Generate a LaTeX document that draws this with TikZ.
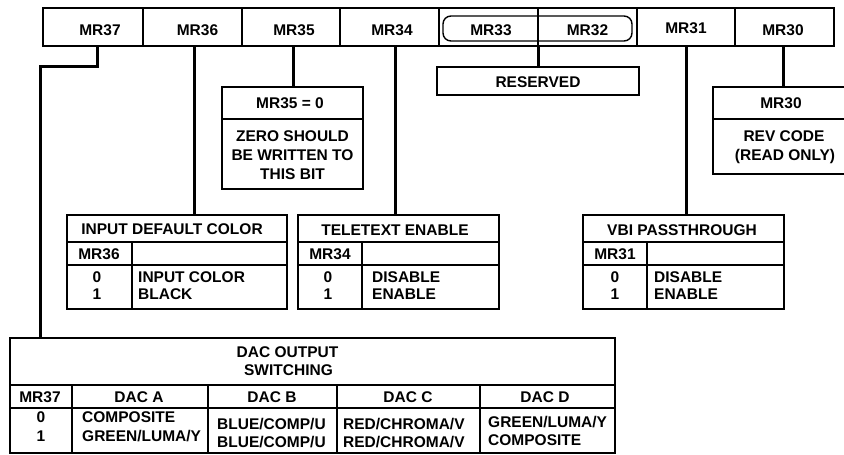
\documentclass[tikz,border=0pt]{standalone}
\usepackage{fontspec}
\setmainfont{Liberation Sans}
\begin{document}
\begin{tikzpicture}[x=1pt,y=-1pt,
  box/.style={draw, line width=1.5pt, inner sep=0pt, outer sep=0pt},
  div/.style={line width=1.4pt},
  conn/.style={line width=3pt, line join=miter},
  txt/.style={font=\fontsize{15.5}{18}\selectfont\bfseries, inner sep=0pt, anchor=base},
  ltxt/.style={txt, anchor=base west}]
\useasboundingbox (0,0) rectangle (844,455);
\clip (0,0) rectangle (844,455);

% register bar
\node[box, minimum width=791pt, minimum height=38pt] (bar) at (438.5,27) {};
\foreach \xx in {143,242,340,439,538,637,735} \draw[div] (\xx,8) -- (\xx,46);
\node[draw, line width=1.4pt, rounded corners=8pt, inner sep=0pt, minimum width=189pt, minimum height=25pt] (grp) at (537.5,28.5) {};
\node[txt] (r37) at (100,35.5) {MR37};
\node[txt] (r36) at (197.5,35.5) {MR36};
\node[txt] (r35) at (294,35.5) {MR35};
\node[txt] (r34) at (392,35.5) {MR34};
\node[txt] (r33) at (491,35.5) {MR33};
\node[txt] (r32) at (587.5,35.5) {MR32};
\node[txt] (r31) at (686,34) {MR31};
\node[txt] (r30) at (783,35.5) {MR30};

% reserved
\node[box, minimum width=202pt, minimum height=28pt] (res) at (538,81) {};
\node[txt] (tres) at (538,87) {RESERVED};

% MR35 box
\node[box, minimum width=141pt, minimum height=102pt] (m35) at (292.5,138) {};
\draw[div] (222,119) -- (363,119);
\node[txt] (a1) at (290,108.5) {MR35 = 0};
\node[txt] (a2) at (292.5,141.5) {ZERO SHOULD};
\node[txt] (a3) at (292.5,160.5) {BE WRITTEN TO};
\node[txt] (a4) at (292.5,179.5) {THIS BIT};

% MR30 box
\node[box, minimum width=147pt, minimum height=87pt] (m30) at (786.5,130.5) {};
\draw[div] (713,119) -- (860,119);
\node[txt] (b1) at (781,108.5) {MR30};
\node[txt] (b2) at (784,141.5) {REV CODE};
\node[txt] (b3) at (785,160.5) {(READ ONLY)};

% input default color
\node[box, minimum width=220pt, minimum height=94pt] (inb) at (177,262) {};
\draw[div] (67,242) -- (287,242) (67,265) -- (287,265) (132,242) -- (132,309);
\node[txt] (c1) at (172,234.5) {INPUT DEFAULT COLOR};
\node[txt] (c2) at (99,259) {MR36};
\node[txt] (c3) at (97,282) {0};
\node[txt] (c4) at (97,299.5) {1};
\node[ltxt] (c5) at (138,282) {INPUT COLOR};
\node[ltxt] (c6) at (138,299.5) {BLACK};

% teletext enable
\node[box, minimum width=201pt, minimum height=94pt] (tb) at (398.5,262) {};
\draw[div] (298,242) -- (499,242) (298,265) -- (499,265) (362,242) -- (362,309);
\node[txt] (d1) at (395,235.5) {TELETEXT ENABLE};
\node[txt] (d2) at (330,259.5) {MR34};
\node[txt] (d3) at (328,282) {0};
\node[txt] (d4) at (328,299.5) {1};
\node[ltxt] (d5) at (372,282) {DISABLE};
\node[ltxt] (d6) at (372,299.5) {ENABLE};

% VBI passthrough
\node[box, minimum width=201pt, minimum height=94pt] (vb) at (683.5,262) {};
\draw[div] (583,242) -- (784,242) (583,265) -- (784,265) (647,242) -- (647,309);
\node[txt] (e1) at (682,235.5) {VBI PASSTHROUGH};
\node[txt] (e2) at (615,259.5) {MR31};
\node[txt] (e3) at (615,282) {0};
\node[txt] (e4) at (615,299.5) {1};
\node[ltxt] (e5) at (654,282) {DISABLE};
\node[ltxt] (e6) at (654,299.5) {ENABLE};

% DAC output switching
\node[box, minimum width=605pt, minimum height=115pt] (dac) at (312.5,395.5) {};
\draw[div] (10,385) -- (615,385) (10,408) -- (615,408);
\foreach \xx in {72,208,337,480} \draw[div] (\xx,385) -- (\xx,453);
\node[txt] (f1) at (287.5,357.5) {DAC OUTPUT};
\node[txt] (f2) at (288.5,375.5) {SWITCHING};
\node[txt] (g1) at (40,402) {MR37};
\node[txt] (g2) at (139,402) {DAC A};
\node[txt] (g3) at (272,402) {DAC B};
\node[txt] (g4) at (408,402) {DAC C};
\node[txt] (g5) at (545,402) {DAC D};
\node[txt] (h1) at (41,422.5) {0};
\node[txt] (h2) at (41,441) {1};
\node[ltxt] (h3) at (82,422.5) {COMPOSITE};
\node[ltxt] (h4) at (82,441) {GREEN/LUMA/Y};
\node[ltxt] (h5) at (217,429.5) {BLUE/COMP/U};
\node[ltxt] (h6) at (217,447) {BLUE/COMP/U};
\node[ltxt] (h7) at (343,429.5) {RED/CHROMA/V};
\node[ltxt] (h8) at (343,447) {RED/CHROMA/V};
\node[ltxt] (h9) at (488,427.5) {GREEN/LUMA/Y};
\node[ltxt] (h10) at (488,445.5) {COMPOSITE};

% connectors
\coordinate (p37) at (97,46);
\coordinate (k37) at (40,66);
\draw[conn] (p37) |- (k37) -- (k37 |- dac.north);
\draw[conn] (194,46) coordinate (p36) -- (p36 |- inb.north);
\draw[conn] (293,46) coordinate (p35) -- (p35 |- m35.north);
\draw[conn] (395,46) coordinate (p34) -- (p34 |- tb.north);
\draw[conn] (538,46) coordinate (p33) -- (p33 |- res.north);
\draw[conn] (686,46) coordinate (p31) -- (p31 |- vb.north);
\draw[conn] (783,46) coordinate (p30) -- (p30 |- m30.north);
\end{tikzpicture}
\end{document}
